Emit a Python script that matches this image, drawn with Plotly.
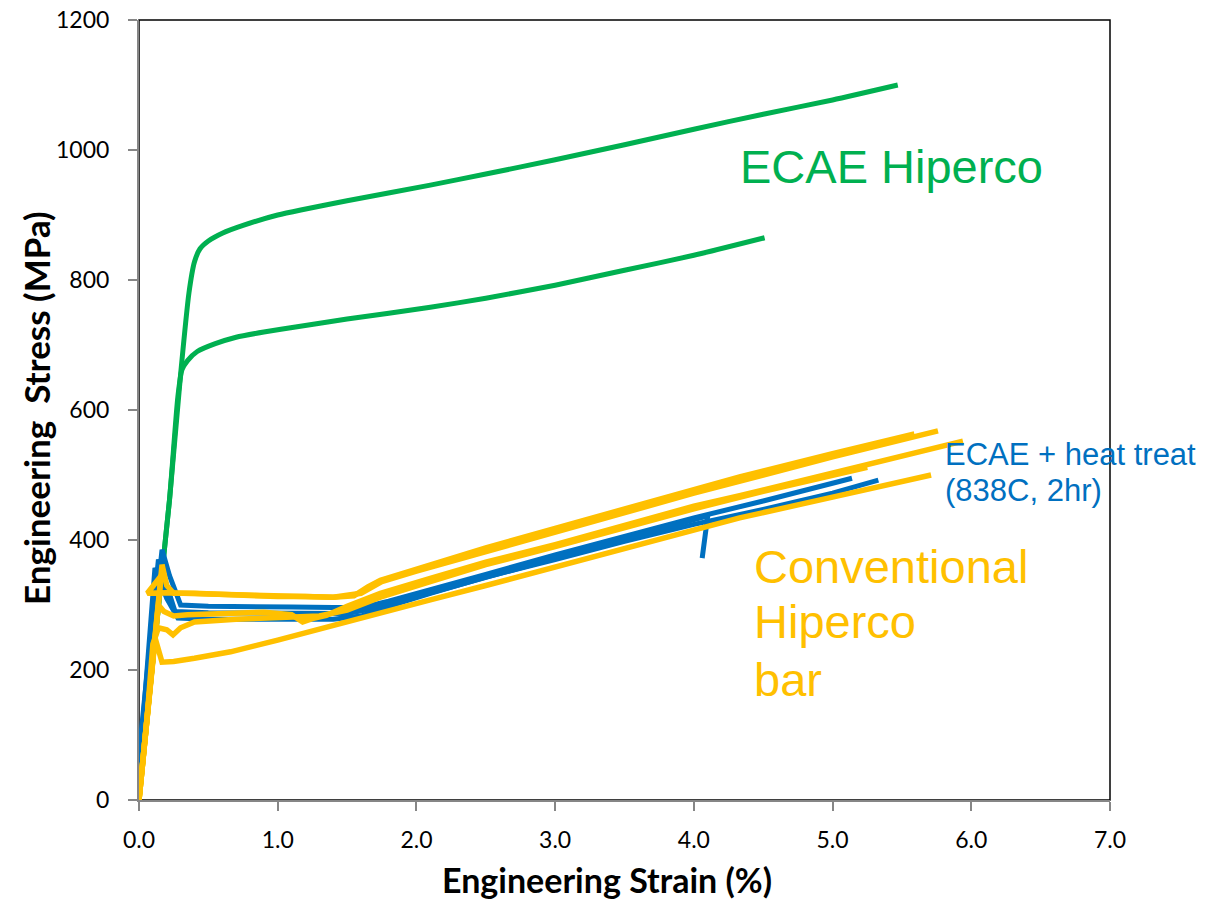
import plotly.graph_objects as go

# ---------------- data ----------------
ecae_top_x = [0, 0.10, 0.22, 0.30, 0.36, 0.40, 0.44, 0.50, 0.60, 0.75, 1.0, 1.5, 2.1, 2.5, 3.0, 3.5, 4.0, 4.5, 5.0, 5.47]
ecae_top_y = [0, 215, 462, 655, 780, 828, 848, 860, 872, 884, 900, 922, 946, 963, 985, 1008, 1032, 1055, 1077, 1100]

ecae_low_x = [0, 0.10, 0.22, 0.28, 0.31, 0.35, 0.42, 0.55, 0.7, 0.9, 1.14, 1.5, 2.1, 2.5, 3.0, 3.5, 4.0, 4.51]
ecae_low_y = [0, 215, 462, 620, 662, 676, 690, 702, 712, 720, 728, 740, 758, 772, 792, 815, 838, 865]

ht1_x = [0, 0.02, 0.166, 0.22, 0.30, 0.5, 0.8, 1.1, 1.4, 1.6, 1.8, 2.1, 2.5, 3.0, 3.5, 4.0, 4.5, 5.14]
ht1_y = [60, 100, 385, 345, 300, 298, 298, 297, 296, 296, 306, 323, 347, 377, 406, 434, 460, 495]

ht2_x = [0, 0.115, 0.2, 0.28, 0.5, 1.0, 1.4, 1.6, 1.8, 2.1, 2.5, 3.0, 3.5, 4.0, 4.5, 5.0, 5.33]
ht2_y = [40, 357, 310, 280, 278, 278, 278, 283, 298, 318, 343, 370, 398, 424, 447, 472, 492]

ht3_x = [0, 0.14, 0.2, 0.26, 0.5, 1.0, 1.5, 1.7, 2.0, 2.5, 3.0, 3.5, 4.10, 4.06]
ht3_y = [70, 370, 330, 290, 288, 287, 287, 295, 313, 343, 373, 403, 437, 372]

conv_a_x = [0, 0.06, 0.12, 0.166, 0.20, 0.25, 0.4, 0.6, 0.8, 1.0, 1.2, 1.4, 1.55, 1.65, 1.74, 2.1, 2.5, 3.0, 3.5, 4.0, 4.33, 5.0, 5.59]
conv_a_y = [0, 130, 265, 362, 330, 318, 318, 316, 314, 313, 313, 312, 314, 328, 338, 362, 388, 418, 448, 478, 497, 533, 563]

conv_b_x = [0, 0.07, 0.14, 0.16, 0.06, 0.2, 0.5, 0.8, 1.1, 1.4, 1.6, 1.75, 2.0, 2.5, 3.0, 3.5, 4.0, 4.5, 5.0, 5.76]
conv_b_y = [0, 150, 305, 345, 318, 319, 317, 316, 314, 312, 318, 336, 352, 382, 412, 443, 472, 500, 528, 568]

conv_c_x = [0, 0.07, 0.14, 0.18, 0.25, 0.35, 0.6, 0.9, 1.1, 1.18, 1.25, 1.35, 1.5, 1.74, 2.1, 2.5, 3.0, 3.5, 4.0, 4.33, 5.0, 5.94]
conv_c_y = [0, 150, 300, 290, 283, 285, 287, 289, 285, 274, 279, 284, 298, 318, 341, 366, 393, 423, 452, 468, 503, 552]

conv_d_x = [0, 0.06, 0.10, 0.14, 0.2, 0.245, 0.3, 0.4, 0.7, 1.0, 1.3, 1.5, 1.74, 2.1, 2.5, 3.0, 3.5, 4.0, 4.5, 5.25]
conv_d_y = [0, 130, 240, 265, 262, 254, 265, 274, 278, 281, 283, 292, 312, 336, 362, 390, 420, 448, 475, 512]

conv_e_x = [0, 0.06, 0.115, 0.166, 0.25, 0.4, 0.66, 1.0, 1.5, 2.1, 2.5, 3.0, 3.5, 4.0, 4.33, 5.0, 5.71]
conv_e_y = [0, 130, 250, 212, 213, 218, 228, 246, 275, 308, 330, 358, 386, 414, 434, 466, 500]

x_ticks = [0, 1, 2, 3, 4, 5, 6, 7]
y_ticks = [0, 200, 400, 600, 800, 1000, 1200]

GREEN = "#00B050"
BLUE = "#0070C0"
YELLOW = "#FFC000"

fig = go.Figure()

for xs, ys in [(ecae_top_x, ecae_top_y), (ecae_low_x, ecae_low_y)]:
    fig.add_trace(go.Scatter(x=xs, y=ys, mode="lines",
                             line=dict(color=GREEN, width=5, shape="spline", smoothing=0.6),
                             showlegend=False, hoverinfo="skip"))

for xs, ys in [(ht1_x, ht1_y), (ht2_x, ht2_y), (ht3_x, ht3_y)]:
    fig.add_trace(go.Scatter(x=xs, y=ys, mode="lines",
                             line=dict(color=BLUE, width=5),
                             showlegend=False, hoverinfo="skip"))

for xs, ys in [(conv_a_x, conv_a_y), (conv_b_x, conv_b_y), (conv_c_x, conv_c_y),
               (conv_d_x, conv_d_y), (conv_e_x, conv_e_y)]:
    fig.add_trace(go.Scatter(x=xs, y=ys, mode="lines",
                             line=dict(color=YELLOW, width=5.5),
                             showlegend=False, hoverinfo="skip"))

AXIS_GRAY = "#868686"
TICK_FONT = dict(family="Lato, 'Open Sans', sans-serif", size=23, color="#000000")
TITLE_FONT = dict(family="Lato, 'Open Sans', sans-serif", size=34, color="#000000", weight="bold")
YTITLE_FONT = dict(family="Lato, 'Open Sans', sans-serif", size=35, color="#000000", weight="bold")

fig.update_xaxes(range=[0, 7], tickvals=x_ticks, ticktext=[f"{v:.1f}" for v in x_ticks],
                 showgrid=False, zeroline=False, showline=True, linecolor=AXIS_GRAY, linewidth=2,
                 ticks="outside", ticklen=9, tickwidth=1.5, tickcolor=AXIS_GRAY,
                 tickfont=TICK_FONT, ticklabelstandoff=9, automargin=False)
fig.update_yaxes(range=[0, 1200], tickvals=y_ticks,
                 showgrid=False, zeroline=False, showline=True, linecolor=AXIS_GRAY, linewidth=2,
                 ticks="outside", ticklen=9, tickwidth=1.5, tickcolor=AXIS_GRAY,
                 tickfont=TICK_FONT, ticklabelstandoff=14, automargin=False)

# plot-area border (top and right appear black)
fig.add_shape(type="rect", xref="paper", yref="paper", x0=0, y0=0, x1=1, y1=1,
              line=dict(color="#000000", width=1.5), layer="below")

W, H = 1209, 906
L, R, T, B = 139, 1110, 20, 800

def px(xp):
    return (xp - L) / (R - L)

def py(yp):
    return (B - yp) / (B - T)

# axis titles as annotations for exact placement
fig.add_annotation(x=px(607), y=py(879), xref="paper", yref="paper",
                   text="Engineering Strain (%)", showarrow=False,
                   xanchor="center", yanchor="middle", font=TITLE_FONT)
fig.add_annotation(x=px(36), y=py(408), xref="paper", yref="paper",
                   text="Engineering\u00a0 Stress (MPa)", showarrow=False, textangle=-90,
                   xanchor="center", yanchor="middle", font=YTITLE_FONT)

ANN_FONT = "Liberation Sans, Arial, sans-serif"
annots = [
    ("ECAE Hiperco", 738, 166, GREEN, 47),
    ("Conventional", 752, 566, YELLOW, 47),
    ("Hiperco", 752, 621, YELLOW, 47),
    ("bar", 752, 679, YELLOW, 47),
    ("ECAE + heat treat", 943, 454, BLUE, 31),
    ("(838C, 2hr)", 943, 490, BLUE, 31),
]
for text, xp, yp, col, sz in annots:
    fig.add_annotation(x=px(xp), y=py(yp), xref="paper", yref="paper", text=text,
                       showarrow=False, xanchor="left", yanchor="middle",
                       font=dict(family=ANN_FONT, size=sz, color=col))

fig.update_layout(width=W, height=H, margin=dict(l=L, r=W - R, t=T, b=H - B),
                  plot_bgcolor="white", paper_bgcolor="white")

fig.write_html("out.html")
